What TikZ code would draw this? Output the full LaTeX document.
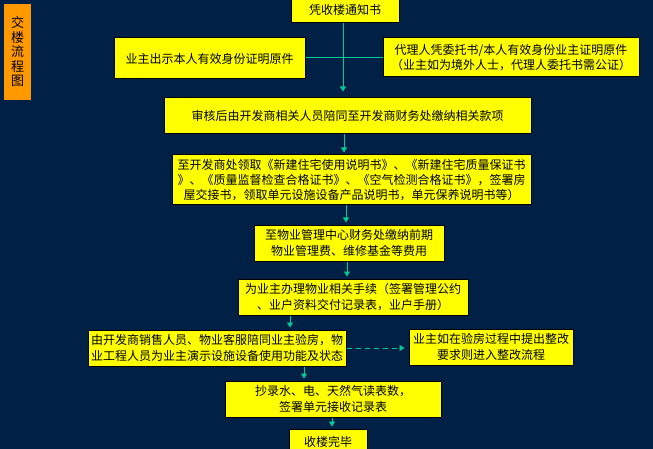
\documentclass[tikz,border=0pt]{standalone}
\usepackage{fontspec}
\setmainfont{Noto Sans CJK SC}
\usetikzlibrary{arrows.meta}
\definecolor{bgnavy}{RGB}{0,32,70}
\definecolor{boxyel}{RGB}{255,255,0}
\definecolor{tagorange}{RGB}{255,153,0}
\definecolor{arrteal}{RGB}{0,204,153}
\tikzset{
  ybox/.style={draw=black, line width=1pt, fill=boxyel, inner sep=0pt, align=center,
    font=\fontsize{12}{15.5}\selectfont, text=black},
  arr/.style={draw=arrteal, line width=0.9pt, -{Triangle[width=6pt,length=5pt]}},
  plainline/.style={draw=arrteal, line width=0.9pt},
}
\begin{document}
\begin{tikzpicture}[x=1pt,y=-1pt]
\fill[bgnavy] (0,0) rectangle (653,449);
\useasboundingbox (0,0) rectangle (653,449);
% title tag
\node[fill=tagorange, minimum width=27pt, minimum height=96pt, inner sep=0pt, align=center,
  font=\fontsize{13}{14.5}\selectfont] (tag) at (17.5,52) {交\\楼\\流\\程\\图};
% boxes
\node[ybox, minimum width=108pt, minimum height=26pt] (b1) at (345,10) {凭收楼通知书};
\node[ybox, minimum width=191pt, minimum height=41pt] (b2) at (209.5,58.5) {业主出示本人有效身份证明原件};
\node[ybox, minimum width=256pt, minimum height=39pt] (b3) at (511,57.5) {代理人凭委托书/本人有效身份业主证明原件\\（业主如为境外人士，代理人委托书需公证）};
\node[ybox, minimum width=367pt, minimum height=36pt] (b4) at (347.5,116) {审核后由开发商相关人员陪同至开发商财务处缴纳相关款项};
\node[ybox, minimum width=359pt, minimum height=50pt, font=\fontsize{12}{15}\selectfont] (b5) at (351.5,180) {至开发商处领取《新建住宅使用说明书》、《新建住宅质量保证书\\》、《质量监督检查合格证书》、《空气检测合格证书》，签署房\\屋交接书，领取单元设施设备产品说明书，单元保养说明书等）};
\node[ybox, minimum width=190pt, minimum height=36pt] (b6) at (349,243) {至物业管理中心财务处缴纳前期\\物业管理费、维修基金等费用};
\node[ybox, minimum width=230pt, minimum height=36pt] (b7) at (353,297) {为业主办理物业相关手续（签署管理公约\\、业户资料交付记录表，业户手册）};
\node[ybox, minimum width=258pt, minimum height=36pt] (b8) at (217,348) {由开发商销售人员、物业客服陪同业主验房，物\\业工程人员为业主演示设施设备使用功能及状态};
\node[ybox, minimum width=164pt, minimum height=36pt] (b9) at (491,347) {业主如在验房过程中提出整改\\要求则进入整改流程};
\node[ybox, minimum width=216pt, minimum height=36pt] (b10) at (333,399) {抄录水、电、天然气读表数，\\签署单元接收记录表};
\node[ybox, minimum width=78pt, minimum height=26pt] (b11) at (328,442) {收楼完毕};
% connectors
\draw[arr, shorten >=6pt] (343,0 |- b1.south) -- (343,0 |- b4.north);
\draw[plainline] (b2.east |- 0,57) -- (b3.west |- 0,57);
\draw[arr, shorten >=2pt] (344,0 |- b4.south) -- (344,0 |- b5.north);
\draw[arr, shorten >=2pt] (346,0 |- b5.south) -- (346,0 |- b6.north);
\draw[arr, shorten >=2pt] (347,0 |- b6.south) -- (347,0 |- b7.north);
\draw[arr, shorten >=2pt] (290,0 |- b7.south) -- (290,0 |- b8.north);
\draw[arr, shorten >=2pt] (304,0 |- b8.south) -- (304,0 |- b10.north);
\draw[arr, shorten >=2pt] (332,0 |- b10.south) -- (332,0 |- b11.north);
\draw[arr, dash pattern=on 5pt off 4pt, shorten >=4pt] (b8.east |- 0,348) -- (b9.west |- 0,348);
\end{tikzpicture}
\end{document}
